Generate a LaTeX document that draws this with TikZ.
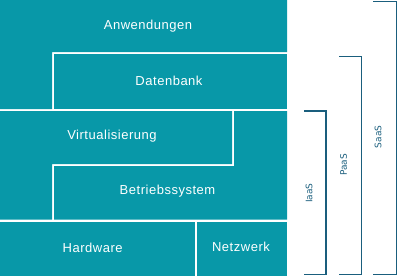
\documentclass[tikz,border=0pt]{standalone}
\usepackage{fontspec}
\setmainfont{Liberation Sans}[LetterSpace=4]
\newfontfamily\labfont{DejaVu Sans}
\definecolor{blockteal}{RGB}{8,152,168}
\definecolor{brackblue}{RGB}{26,94,125}
\tikzset{
  block/.style={fill=blockteal, draw=none},
  blocktext/.style={text=white, font=\fontsize{13}{15}\selectfont, inner sep=0pt},
  brack/.style={draw=brackblue, line width=1.2pt},
  bracklabel/.style={text=brackblue, font=\labfont\fontsize{9}{10}\selectfont, rotate=90, inner sep=0pt}
}
\begin{document}
\begin{tikzpicture}[x=1pt,y=-1pt]
\useasboundingbox (0,0) rectangle (407,276);
% blocks
\path[block] (0,0) -- (287,0) -- (287,52) -- (52,52) -- (52,109) -- (0,109) -- cycle;
\path[block] (54,54) rectangle (287,109);
\path[block] (0,111) -- (232,111) -- (232,164) -- (52,164) -- (52,219.5) -- (0,219.5) -- cycle;
\path[block] (54,166) -- (234,166) -- (234,111) -- (287,111) -- (287,219.5) -- (54,219.5) -- cycle;
\path[block] (0,221.5) rectangle (195,276);
\path[block] (197,221.5) rectangle (287,276);
% texts
\node[blocktext] (anw) at (148,26) {Anwendungen};
\node[blocktext] (dat) at (169,81) {Datenbank};
\node[blocktext] (vir) at (112,136) {Virtualisierung};
\node[blocktext] (bet) at (167.5,191) {Betriebssystem};
\node[blocktext] (hw) at (92.7,248) {Hardware};
\node[blocktext] (nw) at (241,247) {Netzwerk};
% brackets
\coordinate (i1) at (304,111);
\coordinate (i2) at (326,111);
\coordinate (i3) at (326,274.5);
\coordinate (i4) at (304,274.5);
\draw[brack] (i1) -- (i2) -- (i3) -- (i4);
\coordinate (p1) at (339,56.5);
\coordinate (p2) at (361.5,56.5);
\coordinate (p3) at (361.5,274.5);
\coordinate (p4) at (339,274.5);
\draw[brack] (p1) -- (p2) -- (p3) -- (p4);
\coordinate (s1) at (373,1.5);
\coordinate (s2) at (396.5,1.5);
\coordinate (s3) at (396.5,274.5);
\coordinate (s4) at (373,274.5);
\draw[brack] (s1) -- (s2) -- (s3) -- (s4);
\node[bracklabel] (iaas) at (309,193) {IaaS};
\node[bracklabel] (paas) at (343.5,165) {PaaS};
\node[bracklabel] (saas) at (378,137) {SaaS};
\end{tikzpicture}
\end{document}
